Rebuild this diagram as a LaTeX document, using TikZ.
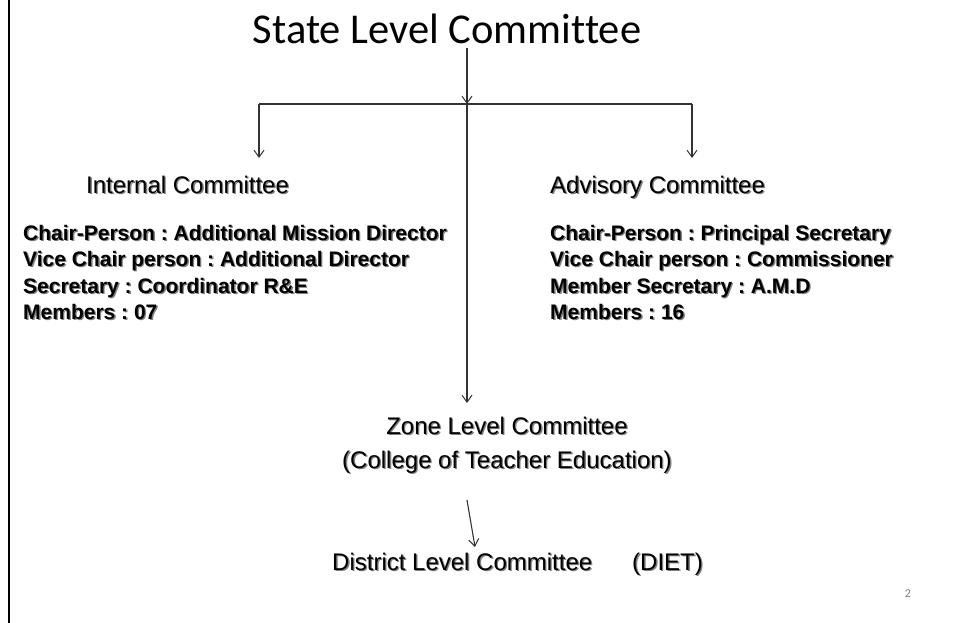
\documentclass[tikz,border=0pt]{standalone}
\usepackage{fontspec}
\setmainfont{Liberation Sans}
\newfontfamily\titlefont[Ligatures=NoCommon]{Carlito}
\usetikzlibrary{arrows.meta}
\frenchspacing
% text with a soft grey drop shadow
\newcommand\shd[1]{\leavevmode\rlap{\kern1.3pt\raisebox{-1.3pt}{\textcolor{black!50}{#1}}}#1}
\tikzset{
  conn/.style={draw=black!80, line width=1.1pt},
  arr/.style={conn, -{Straight Barb[length=7pt,width=10pt,line width=1pt]}},
  head/.style={inner sep=0pt, anchor=base west, font=\fontsize{24}{28}\selectfont},
  item/.style={inner sep=0pt, anchor=base west, font=\fontsize{21}{25}\selectfont\bfseries},
}
\begin{document}
\begin{tikzpicture}[x=1pt, y=-1pt]
\useasboundingbox (0,0) rectangle (960,623);
% slide edge
\draw[line width=2.2pt] (9,0) -- (9,623);

% top level
\node[inner sep=0pt, anchor=base, font=\titlefont\fontsize{42.5}{50}\selectfont] (title) at (447,44) {State Level Committee};

% connector bus
\coordinate (top) at (467,48);
\coordinate (bus) at (467,104);
\coordinate (busL) at (259,104);
\coordinate (busR) at (692,104);
\coordinate (tipL) at (259,158);
\coordinate (tipR) at (692,158);
\coordinate (tipZ) at (467,403);
\coordinate (dFrom) at (467,500);
\coordinate (dTo) at (475,547);

\draw[arr] (top) -- (bus);
\draw[conn] (busL) -- (busR);
\draw[arr] (busL) -- (tipL);
\draw[arr] (busR) -- (tipR);
\draw[arr] (bus) -- (tipZ);

% internal committee
\node[head] (intT) at (86,193) {\shd{Internal Committee}};
\node[item] (int1) at (23,240) {\shd{Chair-Person : Additional Mission Director}};
\node[item] (int2) at (23,266) {\shd{Vice Chair person : Additional Director}};
\node[item] (int3) at (23,293) {\shd{Secretary : Coordinator R\&E}};
\node[item] (int4) at (23,319) {\shd{Members : 07}};

% advisory committee
\node[head] (advT) at (550,193) {\shd{Advisory Committee}};
\node[item] (adv1) at (550,240) {\shd{Chair-Person : Principal Secretary}};
\node[item] (adv2) at (550,266) {\shd{Vice Chair person : Commissioner}};
\node[item] (adv3) at (550,293) {\shd{Member Secretary : A.M.D}};
\node[item] (adv4) at (550,319) {\shd{Members : 16}};

% zone and district levels
\node[head, anchor=base] (zone) at (507,434) {\shd{Zone Level Committee}};
\node[head, anchor=base] (zoneSub) at (507,468) {\shd{(College of Teacher Education)}};
\draw[arr] (dFrom) -- (dTo);
\node[head] (district) at (332,570) {\shd{District Level Committee}};
\node[head] (diet) at (632,570) {\shd{(DIET)}};

% page number
\node[inner sep=0pt, anchor=base, text=black!50, font=\titlefont\fontsize{12}{14}\selectfont] (pnum) at (908,597) {2};
\end{tikzpicture}
\end{document}
